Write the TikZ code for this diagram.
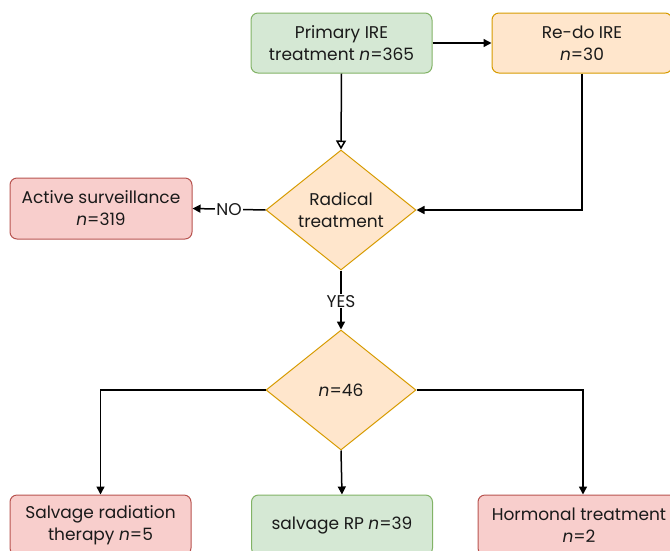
\documentclass[tikz,border=0pt]{standalone}
\usepackage{fontspec}
\setmainfont{Poppins}
\usetikzlibrary{shapes.geometric,arrows.meta}
\definecolor{gfill}{HTML}{D5E8D4}
\definecolor{gline}{HTML}{82B366}
\definecolor{ofill}{HTML}{FFE6CC}
\definecolor{oline}{HTML}{D79B00}
\definecolor{rfill}{HTML}{F8CECC}
\definecolor{rline}{HTML}{B85450}
\definecolor{txt}{HTML}{1A1A1A}
\tikzset{
  box/.style={rectangle, rounded corners=7pt, inner sep=0pt, align=center, line width=1pt,
    font=\fontsize{17}{22}\selectfont, text=txt},
  gbox/.style={box, fill=gfill, draw=gline},
  obox/.style={box, fill=ofill, draw=oline},
  rbox/.style={box, fill=rfill, draw=rline},
  dia/.style={diamond, fill=ofill, draw=oline, line width=1pt, inner sep=0pt,
    minimum width=150pt, minimum height=120pt},
  dtext/.style={align=center, font=\fontsize{17}{22}\selectfont, text=txt, inner sep=0pt},
  conn/.style={line width=1.5pt, draw=black, -{Triangle[length=8pt,width=8pt]}},
  oconn/.style={line width=1.5pt, draw=black, -{Triangle[open,length=9pt,width=10pt]}},
  lab/.style={fill=white, inner sep=1pt, font=\fontsize{17}{20}\selectfont, text=txt}
}
\begin{document}
\begin{tikzpicture}[x=1pt,y=-1pt]
\useasboundingbox (0,0) rectangle (670,550);
\clip (0,0) rectangle (670,550);
\node[gbox, minimum width=181pt, minimum height=60pt] (prim) at (341.5,43) {Primary IRE\\treatment \textit{n}=365};
\node[obox, minimum width=180pt, minimum height=60pt] (redo) at (582,43) {Re-do IRE\\\textit{n}=30};
\node[dia] (rad) at (341,210) {};
\node[dtext] (radt) at (rad.center) {Radical\\treatment};
\node[rbox, minimum width=182pt, minimum height=61pt] (act) at (101,208.5) {Active surveillance\\\textit{n}=319};
\node[dia] (d46) at (341,390) {};
\node[dtext] (d46t) at (d46.center) {\textit{n}=46};
\node[rbox, minimum width=181pt, minimum height=60pt] (srt) at (100.5,525) {Salvage radiation\\therapy \textit{n}=5};
\node[gbox, minimum width=181pt, minimum height=60pt] (srp) at (342,525) {salvage RP \textit{n}=39};
\node[rbox, minimum width=202pt, minimum height=60pt] (hor) at (579,525) {Hormonal treatment\\\textit{n}=2};

\draw[conn] (prim.east) -- (redo.west);
\draw[oconn] (prim.south) -- (rad.north);
\draw[conn] (redo.south) |- (rad.east);
\draw[conn] (rad.west) -- node[lab] (no) {NO} (act.east);
\draw[conn] (rad.south) -- node[lab, pos=0.52] (yes) {YES} (d46.north);
\draw[conn] (d46.west) -| (srt.north);
\draw[conn] (d46.south) -- (srp.north);
\draw[conn] (d46.east) -| ([xshift=4pt]hor.north);
\end{tikzpicture}
\end{document}
